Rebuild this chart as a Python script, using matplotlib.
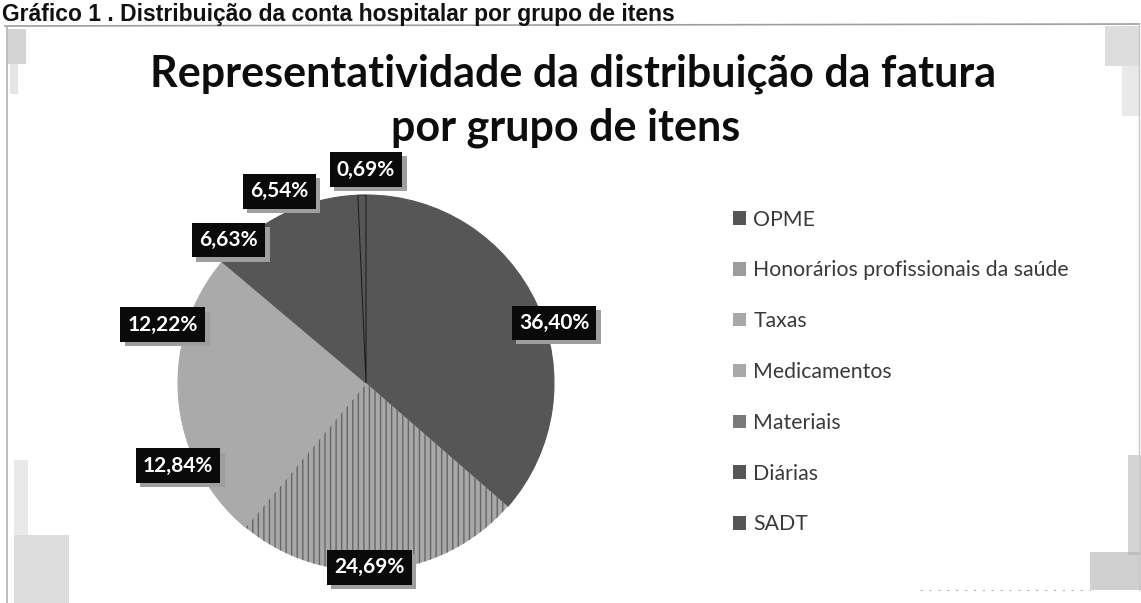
import matplotlib
matplotlib.use("Agg")
import matplotlib.pyplot as plt
import matplotlib.patheffects as pe
from matplotlib.lines import Line2D
from matplotlib.patches import Rectangle

# ---------------- data ----------------
categories = ["OPME", "Honorários profissionais da saúde", "Taxas",
              "Medicamentos", "Materiais", "Diárias", "SADT"]
values = [36.40, 24.69, 12.84, 12.22, 6.63, 6.54, 0.69]
caption = "Gráfico 1 . Distribuição da conta hospitalar por grupo de itens"
title_lines = ["Representatividade da distribuição da fatura", "por grupo de itens"]

# ---------------- style ----------------
slice_colors = ["#565656", "#a8a8a8", "#aaaaaa", "#aaaaaa", "#565656", "#565656", "#565656"]
legend_colors = ["#555555", "#9c9c9c", "#a8a8a8", "#a8a8a8", "#7a7a7a", "#555555", "#555555"]
# label positions in pie-radius units (layout only)
label_pos = [(1.00, 0.32), (0.02, -0.98), (-1.00, -0.44), (-1.08, 0.31),
             (-0.73, 0.76), (-0.46, 1.02), (0.00, 1.135)]

W, H = 1141, 603
fig = plt.figure(figsize=(W / 100, H / 100), dpi=100)
fig.patch.set_facecolor("white")

# caption
fig.text(2 / W, 1 - 21 / H, caption, fontsize=16.5, fontweight="bold",
         family="Liberation Sans", color="#111111", va="baseline", ha="left")

# frame of the chart
fig.add_artist(Line2D([5 / W, 1 - 2 / W], [1 - 26 / H, 1 - 24 / H], color="0.62", lw=1.2))
fig.add_artist(Line2D([7 / W, 7 / W], [1 - 26 / H, 0], color="0.7", lw=1.2))
fig.add_artist(Line2D([1139 / W, 1139 / W], [1 - 24 / H, 1 - 590 / H], color="0.78", lw=1.0))
fig.add_artist(Line2D([920 / W, 1090 / W], [1 - 590 / H, 1 - 590 / H], color="0.7", lw=0.8,
                      ls=(0, (2, 6))))
# scan smudges
for (x0, y0, w, h, a) in [(8, 29, 18, 35, 0.5), (10, 64, 8, 30, 0.3),
                          (14, 535, 55, 68, 0.4), (14, 460, 14, 75, 0.25),
                          (1105, 26, 35, 40, 0.4), (1122, 66, 18, 50, 0.25),
                          (1128, 455, 13, 100, 0.5), (1090, 552, 51, 38, 0.55)]:
    fig.add_artist(Rectangle((x0 / W, 1 - (y0 + h) / H), w / W, h / H,
                             facecolor="0.67", edgecolor="none", alpha=a,
                             transform=fig.transFigure))

# title
fig.text(573 / W, 1 - 87 / H, title_lines[0], fontsize=31, fontweight="bold",
         family="Lato", color="#0d0d0d", ha="center", va="baseline")
fig.text(566 / W, 1 - 140 / H, title_lines[1], fontsize=31, fontweight="bold",
         family="Lato", color="#0d0d0d", ha="center", va="baseline")

# pie
cx, cy, R = 366, 383, 188
ax = fig.add_axes([(cx - R) / W, (H - cy - R) / H, 2 * R / W, 2 * R / H])
wedges, _ = ax.pie(values, colors=slice_colors, startangle=90, counterclock=False,
                   radius=1.0, wedgeprops=dict(linewidth=0.8))
ax.set_xlim(-1, 1)
ax.set_ylim(-1, 1)
ax.set_aspect("auto")
ax.axis("off")

for w_, c in zip(wedges, slice_colors):
    w_.set_edgecolor(c)
# mottled texture for Honorários
wedges[1].set_hatch("|||")
wedges[1].set_edgecolor("#666666")
wedges[1].set_linewidth(0)
# thin SADT sliver outlined
wedges[6].set_edgecolor("#1a1a1a")
wedges[6].set_linewidth(0.7)

# data labels
for v, (lx, ly) in zip(values, label_pos):
    t = ax.text(lx, ly, f"{v:.2f}%".replace(".", ","), ha="center", va="center",
                fontsize=15, family="Lato", color="white", fontweight="bold",
                bbox=dict(boxstyle="square,pad=0.35", facecolor="#0a0a0a",
                          edgecolor="none"), zorder=5)
    t.get_bbox_patch().set_path_effects(
        [pe.withSimplePatchShadow(offset=(3, -3), shadow_rgbFace="0.62", alpha=1.0),
         pe.Normal()])

# legend
handles = [Rectangle((0, 0), 1, 1, facecolor=c, edgecolor="none") for c in legend_colors]
leg = fig.legend(handles, categories, loc="center left",
                 bbox_to_anchor=(733 / W, 1 - 372 / H), frameon=False,
                 prop=dict(family="Lato", size=15.3), labelcolor="#3a3a3a",
                 handlelength=0.6, handleheight=0.6, handletextpad=0.35,
                 labelspacing=1.45, borderpad=0, borderaxespad=0)

fig.savefig("out.png", dpi=100, facecolor="white")
